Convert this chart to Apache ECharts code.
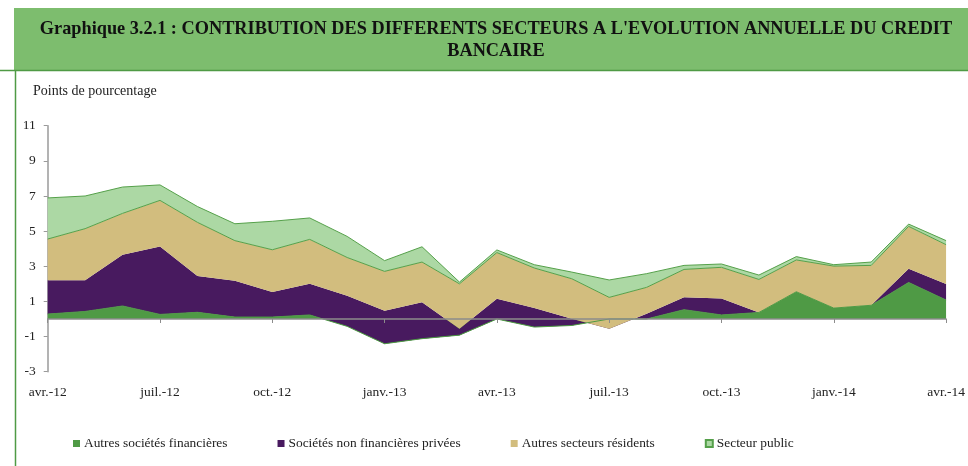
<!DOCTYPE html>
<html>
<head>
<meta charset="utf-8">
<script src="https://cdn.jsdelivr.net/npm/echarts@6/dist/echarts.min.js"></script>
<style>
html,body{margin:0;padding:0;background:#fff;}
#chart{width:968px;height:466px;}
</style>
</head>
<body>
<div id="chart"></div>
<script>
var titleLine1 = "Graphique 3.2.1 : CONTRIBUTION DES DIFFERENTS SECTEURS A L'EVOLUTION ANNUELLE DU CREDIT";
var titleLine2 = "BANCAIRE";
var unitLabel = "Points de pourcentage";

var months = ['avr.-12','mai-12','juin-12','juil.-12','août-12','sept.-12','oct.-12','nov.-12','déc.-12',
  'janv.-13','févr.-13','mars-13','avr.-13','mai-13','juin-13','juil.-13','août-13','sept.-13','oct.-13','nov.-13','déc.-13',
  'janv.-14','févr.-14','mars-14','avr.-14'];

var seriesNames = ['Autres sociétés financières','Sociétés non financières privées','Autres secteurs résidents','Secteur public'];

var autresSocFin = [0.28,0.43,0.74,0.26,0.38,0.11,0.11,0.23,-0.42,-1.41,-1.12,-0.92,0.00,-0.46,-0.37,0.00,0.00,0.53,0.23,0.37,1.55,0.62,0.78,2.08,1.08];
var socNonFin   = [1.92,1.77,2.92,3.87,2.07,2.07,1.43,1.78,1.74,1.88,2.07,0.37,1.15,1.08,0.39,-0.55,0.30,0.70,0.93,0.00,0.00,0.00,0.00,0.78,0.91];
var autresRes   = [2.35,2.94,2.35,2.62,3.05,2.28,2.40,2.52,2.18,2.24,2.29,2.55,2.63,2.28,2.27,1.78,1.50,1.59,1.78,1.88,1.81,2.39,2.27,2.41,2.24];
var secteurPub  = [2.34,1.86,1.50,0.88,0.90,0.96,1.62,1.22,1.20,0.61,0.87,0.10,0.15,0.19,0.38,0.99,0.78,0.23,0.19,0.25,0.19,0.08,0.19,0.13,0.23];

var yTicks = [-3,-1,1,3,5,7,9,11];

var colors = ['#4f9a45','#481a5f','#d2bd7e','#acd8a4'];
var edgeGreen = '#55a04a';
var serifFont = "'Liberation Serif','DejaVu Serif',serif";

var chart = echarts.init(document.getElementById('chart'));

function areaSeries(idx, data, lineColor, lineWidth) {
  return {
    name: seriesNames[idx],
    type: 'line',
    data: data,
    stack: 'total',
    stackStrategy: 'all',
    symbol: 'none',
    smooth: false,
    xAxisIndex: 0,
    yAxisIndex: 0,
    lineStyle: {color: lineColor, width: lineWidth},
    areaStyle: {color: colors[idx], opacity: 1},
    itemStyle: {color: colors[idx], borderColor: idx === 3 ? edgeGreen : colors[idx], borderWidth: idx === 3 ? 1 : 0},
    emphasis: {disabled: true},
    animation: false
  };
}

var option = {
  animation: false,
  backgroundColor: '#ffffff',
  textStyle: {fontFamily: serifFont},
  graphic: [
    {type: 'rect', shape: {x: 14, y: 8, width: 954, height: 62}, style: {fill: '#7dbd6e'}, z: 0},
    {type: 'line', shape: {x1: 0, y1: 70.5, x2: 968, y2: 70.5}, style: {stroke: '#4f9a45', lineWidth: 1.5}, z: 1},
    {type: 'line', shape: {x1: 15.5, y1: 70, x2: 15.5, y2: 466}, style: {stroke: '#4f9a45', lineWidth: 1.5}, z: 1},
    {type: 'text', x: 496, y: 20, style: {text: titleLine1, fontFamily: serifFont, fontWeight: 'bold', fontSize: 18.3, fill: '#111', textAlign: 'center'}, z: 2},
    {type: 'text', x: 496, y: 42, style: {text: titleLine2, fontFamily: serifFont, fontWeight: 'bold', fontSize: 18.3, fill: '#111', textAlign: 'center'}, z: 2},
    {type: 'text', x: 33, y: 84, style: {text: unitLabel, fontFamily: serifFont, fontSize: 14, fill: '#222'}, z: 2}
  ],
  legend: {
    data: seriesNames,
    left: 68,
    top: 432,
    itemWidth: 7,
    itemHeight: 7,
    itemGap: 50,
    icon: 'rect',
    textStyle: {fontFamily: serifFont, fontSize: 13.4, color: '#222', padding: [0,0,0,-1]},
    selectedMode: false
  },
  grid: {left: 47.7, right: 16.3, top: 125.7, bottom: 94.3, containLabel: false},
  xAxis: [
    {
      type: 'category',
      data: months,
      boundaryGap: false,
      position: 'bottom',
      axisLine: {onZero: true, lineStyle: {color: '#8c8c8c', width: 1.5}},
      axisTick: {show: true, interval: 2, length: 4, inside: false, lineStyle: {color: '#8c8c8c'}},
      axisLabel: {show: false},
      splitLine: {show: false},
      z: 10
    },
    {
      type: 'category',
      data: months,
      boundaryGap: false,
      position: 'bottom',
      axisLine: {show: false, onZero: false},
      axisTick: {show: false},
      axisLabel: {show: true, interval: 2, margin: 14, fontFamily: serifFont, fontSize: 13.5, color: '#222'},
      splitLine: {show: false}
    }
  ],
  yAxis: [{
    type: 'value',
    min: -3,
    max: 11,
    axisLine: {show: true, lineStyle: {color: '#9a9a9a', width: 1.5}},
    axisTick: {show: true, length: 4, customValues: yTicks, lineStyle: {color: '#9a9a9a'}},
    axisLabel: {show: true, customValues: yTicks, margin: 12, fontFamily: serifFont, fontSize: 13.5, color: '#222'},
    splitLine: {show: false}
  }],
  series: [
    areaSeries(0, autresSocFin, colors[0], 1),
    areaSeries(1, socNonFin, colors[1], 0),
    areaSeries(2, autresRes, edgeGreen, 1),
    areaSeries(3, secteurPub, edgeGreen, 1)
  ]
};
chart.setOption(option);
</script>
</body>
</html>
